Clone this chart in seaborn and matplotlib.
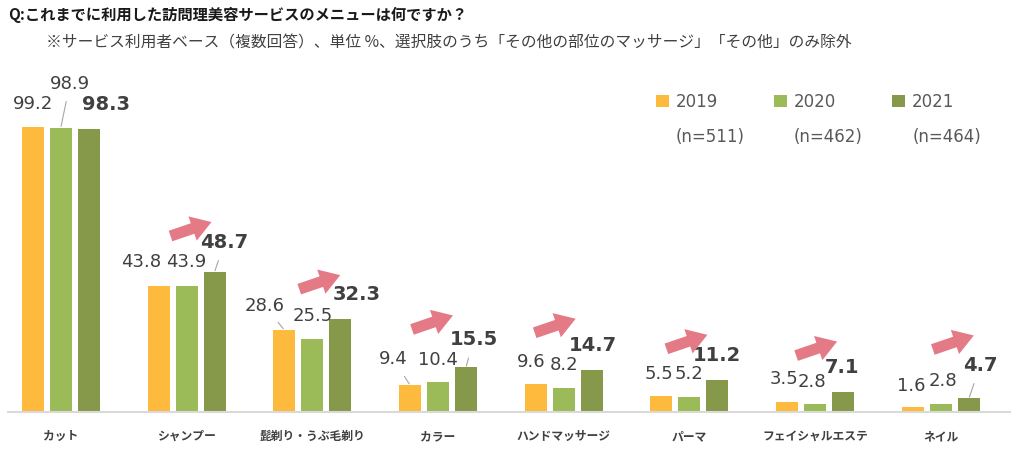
import matplotlib
matplotlib.use("Agg")
import matplotlib.pyplot as plt
import seaborn as sns
import pandas as pd
from matplotlib.transforms import offset_copy
from matplotlib.patches import Patch

# ---------------- data ----------------
menus = ["カット", "シャンプー", "髭剃り・うぶ毛剃り", "カラー", "ハンドマッサージ",
         "パーマ", "フェイシャルエステ", "ネイル"]
years = ["2019", "2020", "2021"]
n_labels = ["(n=511)", "(n=462)", "(n=464)"]
v2019 = [99.2, 43.8, 28.6, 9.4, 9.6, 5.5, 3.5, 1.6]
v2020 = [98.9, 43.9, 25.5, 10.4, 8.2, 5.2, 2.8, 2.8]
v2021 = [98.3, 48.7, 32.3, 15.5, 14.7, 11.2, 7.1, 4.7]
title = "Q:これまでに利用した訪問理美容サービスのメニューは何ですか？"
subtitle = "※サービス利用者ベース（複数回答）、単位 %、選択肢のうち「その他の部位のマッサージ」「その他」のみ除外"

# ---------------- styling / label placement (pixels) ----------------
colors = ["#FDBA3C", "#9BBB59", "#86994A"]
label_off = [
    [(0, 23), (-17, 24.5), (-20, 24), (-16.5, 25.5), (-4.5, 22.5), (-2.5, 22.5), (-3.5, 23), (-1.5, 21)],
    [(9, 44), (0, 23.5), (0.5, 22.5), (0, 22.5), (0, 23), (0, 23.5), (-3.5, 21.5), (2.5, 22.5)],
    [(17, 25), (10, 29.5), (16.5, 24.5), (7.5, 27.5), (1, 24.5), (0, 24.5), (-1, 24), (11.5, 33)],
]
leaders = [
    [False, False, True, True, False, False, False, False],
    [True, False, False, False, False, False, False, False],
    [False, True, False, True, False, False, False, True],
]
arrow_tip = [None, (-3, 50), (0, 44), (-13, 52), (-16, 51), (-10, 45), (-6, 50), (5, 63)]

sns.set_theme(style="white")
plt.rcParams["font.family"] = ["DejaVu Sans", "Noto Sans CJK JP"]
JP = ["Noto Sans CJK JP", "DejaVu Sans"]

df = pd.DataFrame({
    "menu": menus * 3,
    "year": [y for y in years for _ in menus],
    "value": v2019 + v2020 + v2021,
})

fig = plt.figure(figsize=(10.24, 4.66), dpi=100)
ax = fig.add_axes([8 / 1024, 54 / 466, 1002 / 1024, 342 / 466])
sns.barplot(data=df, x="menu", y="value", hue="year", order=menus, hue_order=years,
            palette=colors, saturation=1, width=0.668, gap=0.214, linewidth=0,
            ax=ax, legend=False)
ax.set_ylim(0, 119)
ax.set_xlim(-0.42, 7.55)
ax.set_xlabel("")
ax.set_ylabel("")
ax.set_yticks([])
for s in ["top", "left", "right"]:
    ax.spines[s].set_visible(False)
ax.spines["bottom"].set_color("#D9D9D9")
ax.spines["bottom"].set_linewidth(1.5)
ax.tick_params(axis="x", length=0, pad=13)
for t in ax.get_xticklabels():
    t.set_fontfamily(JP)
    t.set_fontweight("bold")
    t.set_fontsize(8.5)
    t.set_color("#404040")

# value labels
for yi, cont in enumerate(ax.containers):
    for ci, bar in enumerate(cont):
        x = bar.get_x() + bar.get_width() / 2
        h = bar.get_height()
        dx, dy = label_off[yi][ci]
        bold = yi == 2
        ap = None
        if leaders[yi][ci]:
            ap = dict(arrowstyle="-", color="#A6A6A6", lw=0.8, shrinkA=4, shrinkB=1)
        ax.annotate(f"{h:.1f}", xy=(x, h), xytext=(dx, dy), textcoords="offset pixels",
                    ha="center", va="center", fontsize=14 if bold else 13,
                    fontweight="bold" if bold else "normal", color="#404040",
                    arrowprops=ap, annotation_clip=False)

# pink arrows
for ci, bar in enumerate(ax.containers[2]):
    if arrow_tip[ci] is None:
        continue
    x = bar.get_x() + bar.get_width() / 2
    h = bar.get_height()
    tr = offset_copy(ax.transData, fig=fig, x=arrow_tip[ci][0], y=arrow_tip[ci][1], units="dots")
    ax.annotate("", xy=(x, h), xycoords=tr, xytext=(-41, -14), textcoords="offset pixels",
                arrowprops=dict(arrowstyle="simple,head_length=0.9,head_width=1.15,tail_width=0.5",
                                color="#E57A87", lw=0, shrinkA=0, shrinkB=0, mutation_scale=16),
                annotation_clip=False)

# legend
handles = [Patch(facecolor=c, edgecolor="none") for c in colors]
leg = fig.legend(handles, years, ncol=3, loc="center left",
                 bbox_to_anchor=(656 / 1024, 1 - 102 / 466), frameon=False,
                 fontsize=12, handlelength=0.75, handleheight=0.75, handletextpad=0.45,
                 columnspacing=3.35, borderpad=0, borderaxespad=0)
for t in leg.get_texts():
    t.set_color("#595959")

fig.canvas.draw()
inv = fig.transFigure.inverted()
for t, nl in zip(leg.get_texts(), n_labels):
    bb = t.get_window_extent()
    x0, _ = inv.transform((bb.x0, bb.y0))
    fig.text(x0, 1 - 137 / 466, nl, fontsize=12, color="#595959", ha="left", va="center")

fig.text(8 / 1024, 1 - 15 / 466, title, fontsize=11, fontweight="bold", color="#1a1a1a",
         family=JP, ha="left", va="center")
fig.text(46 / 1024, 1 - 43 / 466, subtitle, fontsize=11.3, color="#404040",
         family=JP, ha="left", va="center")

fig.savefig("out.png", dpi=100)
